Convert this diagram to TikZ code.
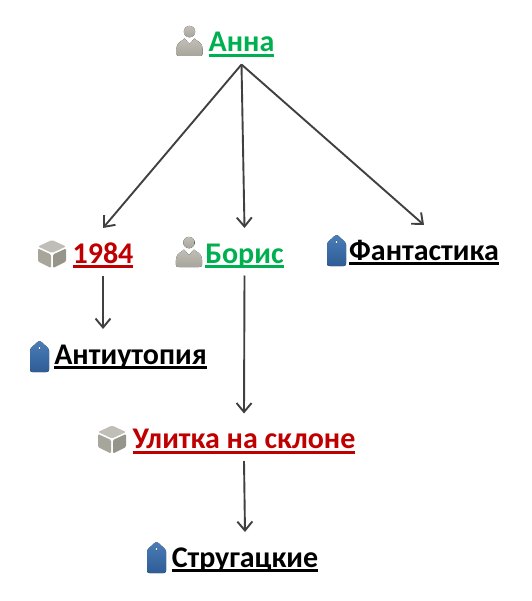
\documentclass[tikz,border=0pt]{standalone}
\usepackage{fontspec}
\setmainfont{Carlito}
\usetikzlibrary{arrows.meta}
\definecolor{txtgreen}{HTML}{00B050}
\definecolor{txtred}{HTML}{C00000}
\definecolor{linegray}{HTML}{404040}
\definecolor{icontop}{HTML}{C0BEB6}
\definecolor{iconbot}{HTML}{A8A59B}
\definecolor{tagtop}{HTML}{4A7DB8}
\definecolor{tagbot}{HTML}{2F5C95}
\tikzset{
  x=1pt,y=-1pt,
  lbl/.style={anchor=base,inner xsep=0pt,inner ysep=0pt,outer sep=0pt,outer ysep=9pt,
    text height=26pt,text depth=3.5pt,font=\fontsize{30}{33}\bfseries\selectfont},
  conn/.style={draw=linegray,line width=1.9pt,-{Straight Barb[length=9pt,width=15pt,line width=1.9pt]}},
  greyfill/.style={top color=icontop,bottom color=iconbot,draw=none},
  persona/.pic={
    \fill[greyfill] (0,-4.4) circle (5.7);
    \fill[greyfill] (-13,18) .. controls (-13.5,12) and (-13,8) .. (-9,5.5)
      .. controls (-7,4.5) and (-6,3.5) .. (-5,2.5) -- (0,8) -- (5,2.5)
      .. controls (6,3.5) and (7,4.5) .. (9,5.5)
      .. controls (13,8) and (13.5,12) .. (13,18)
      .. controls (13,19.5) and (12,20) .. (10,20) -- (-10,20)
      .. controls (-12,20) and (-13,19.5) .. (-13,18) -- cycle;
  },
  cubeicon/.pic={
    \fill[icontop,rounded corners=1.2pt] (0,-14) -- (14,-7.5) -- (0,-1) -- (-14,-7.5) -- cycle;
    \fill[iconbot,rounded corners=1.2pt] (-14,-5.5) -- (-1,0.5) -- (-1,14) -- (-14,7.5) -- cycle;
    \fill[iconbot!90!black,rounded corners=1.2pt] (14,-5.5) -- (1,0.5) -- (1,14) -- (14,7.5) -- cycle;
  },
  tagicon/.pic={
    \fill[top color=tagtop,bottom color=tagbot,even odd rule]
      (0,-15.5) .. controls (1,-15.5) and (1.5,-15) .. (2,-14.5)
      -- (8.5,-8.5) .. controls (9.3,-7.7) and (9.5,-7) .. (9.5,-6)
      -- (9.5,13) .. controls (9.5,14.8) and (8.7,15.5) .. (7,15.5)
      -- (-7,15.5) .. controls (-8.7,15.5) and (-9.5,14.8) .. (-9.5,13)
      -- (-9.5,-6) .. controls (-9.5,-7) and (-9.3,-7.7) .. (-8.5,-8.5)
      -- (-2,-14.5) .. controls (-1.5,-15) and (-1,-15.5) .. (0,-15.5) -- cycle
      (0,-8.5) circle (1.7);
  }
}
\newcommand{\ul}[2]{\draw[#2,line width=2.9pt] ([yshift=-3.6pt]#1.base west) -- ([yshift=-3.6pt]#1.base east);}
\begin{document}
\begin{tikzpicture}
\useasboundingbox (0,0) rectangle (531,601);
% text nodes
\node[lbl,text=txtgreen] (anna) at (241.5,52) {Анна};
\node[lbl,text=txtred] (n1984) at (103,263) {1984};
\node[lbl,text=txtgreen] (boris) at (244.5,263) {Борис};
\node[lbl,text=black] (fant) at (424,260) {Фантастика};
\node[lbl,text=black] (anti) at (130.5,364) {Антиутопия};
\node[lbl,text=txtred] (ulit) at (244,448.5) {Улитка на склоне};
\node[lbl,text=black] (strug) at (245,567) {Стругацкие};
% underlines
\ul{anna}{txtgreen}
\ul{n1984}{txtred}
\ul{boris}{txtgreen}
\ul{fant}{black}
\ul{anti}{black}
\ul{ulit}{txtred}
\ul{strug}{black}
% icons
\pic at (189.5,36) {persona};
\pic at (189,247) {persona};
\pic at (52,254) {cubeicon};
\pic at (112,439.5) {cubeicon};
\pic at (336.5,250.5) {tagicon};
\pic at (39.5,356.5) {tagicon};
\pic at (156.5,557.5) {tagicon};
% connectors
\draw[conn] (anna.south) -- (n1984.north);
\draw[conn] (anna.south) -- (boris.north);
\draw[conn] (anna.south) -- (fant.north);
\draw[conn] (n1984.south) -- (n1984.south |- anti.north);
\draw[conn] (boris.south) -- (ulit.north);
\draw[conn] (ulit.south) -- (strug.north);
\end{tikzpicture}
\end{document}
